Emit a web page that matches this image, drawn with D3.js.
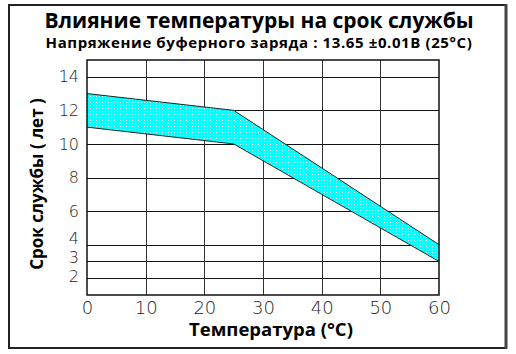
<!DOCTYPE html>
<html>
<head>
<meta charset="utf-8">
<script src="https://cdn.jsdelivr.net/npm/d3@7"></script>
<style>
  body { margin: 0; background: #fff; }
  svg text { font-family: "Open Sans", "Noto Sans", sans-serif; }
  .tick text { font-family: "DejaVu Sans", sans-serif; font-weight: 200; font-stretch: condensed; }
</style>
</head>
<body>
<div id="chart"></div>
<script>
// band edges (temperature °C -> service life, years)
var temps = [0, 25, 60];
var upperLife = [13, 12, 4];
var lowerLife = [11, 10, 3];
var xTicks = [0, 10, 20, 30, 40, 50, 60];
var yTicks = [2, 3, 4, 6, 8, 10, 12, 14];

var width = 516, height = 354;
var svg = d3.select("#chart").append("svg")
  .attr("width", width).attr("height", height);

var defs = svg.append("defs");
var pat = defs.append("pattern").attr("id", "dots")
  .attr("patternUnits", "userSpaceOnUse").attr("width", 3).attr("height", 3);
pat.append("rect").attr("width", 3).attr("height", 3).attr("fill", "#00ffff");
pat.append("rect").attr("x", 0).attr("y", 0).attr("width", 1).attr("height", 1).attr("fill", "#fff");

// outer frame
svg.append("rect").attr("x", 9).attr("y", 5).attr("width", 497).attr("height", 343)
  .attr("fill", "none").attr("stroke", "#222").attr("stroke-width", 2);
svg.append("line").attr("x1", 506).attr("x2", 506).attr("y1", 4).attr("y2", 349)
  .attr("stroke", "#444").attr("stroke-width", 3);

var x = d3.scaleLinear().domain([0, 60]).range([87, 439]);
var y = d3.scaleLinear().domain([1, 15]).range([295, 60]);

// grid
svg.append("g").selectAll("line").data(yTicks).join("line")
  .attr("x1", x(0)).attr("x2", x(60))
  .attr("y1", d => Math.round(y(d)) + 0.5).attr("y2", d => Math.round(y(d)) + 0.5)
  .attr("stroke", "#111").attr("stroke-width", 1);
svg.append("g").selectAll("line").data(xTicks.slice(1, -1)).join("line")
  .attr("y1", y(15)).attr("y2", y(1))
  .attr("x1", d => Math.round(x(d)) + 0.5).attr("x2", d => Math.round(x(d)) + 0.5)
  .attr("stroke", "#333").attr("stroke-width", 1);

// band
var band = temps.map((t, i) => ({ t: t, hi: upperLife[i], lo: lowerLife[i] }));
svg.append("path").datum(band)
  .attr("d", d3.area().x(d => x(d.t)).y0(d => y(d.lo)).y1(d => y(d.hi)))
  .attr("fill", "url(#dots)").attr("stroke", "none");
svg.append("path").datum(band)
  .attr("d", d3.line().x(d => x(d.t)).y(d => y(d.hi)))
  .attr("fill", "none").attr("stroke", "#222").attr("stroke-width", 1);
svg.append("path").datum(band)
  .attr("d", d3.line().x(d => x(d.t)).y(d => y(d.lo)))
  .attr("fill", "none").attr("stroke", "#222").attr("stroke-width", 1);

// plot frame
svg.append("rect").attr("x", x(0)).attr("y", y(15))
  .attr("width", x(60) - x(0)).attr("height", y(1) - y(15))
  .attr("fill", "none").attr("stroke", "#111").attr("stroke-width", 1.5);

// axes (labels only)
var xAxis = svg.append("g").attr("transform", "translate(0," + y(1) + ")")
  .call(d3.axisBottom(x).tickValues(xTicks).tickSize(0).tickPadding(6));
xAxis.select(".domain").remove();
xAxis.selectAll("text").attr("font-size", 18).attr("fill", "#222");

// the crowded labels near the bottom are nudged up, as in the original
var labelShift = { 4: -6.5, 3: -4, 2: -1.5 };
var yAxis = svg.append("g").attr("transform", "translate(" + x(0) + ",0)")
  .call(d3.axisLeft(y).tickValues(yTicks).tickSize(0).tickPadding(8));
yAxis.select(".domain").remove();
yAxis.selectAll("text").attr("font-size", 16).attr("fill", "#222")
  .attr("y", d => labelShift[d] || 0);

// titles
svg.append("text").attr("x", 259).attr("y", 28).attr("text-anchor", "middle")
  .attr("font-size", 21).attr("font-weight", "bold")
  .text("Влияние температуры на срок службы");
svg.append("text").attr("x", 259).attr("y", 48).attr("text-anchor", "middle")
  .attr("font-size", 15).attr("font-weight", "bold").attr("letter-spacing", 0.6)
  .text("Напряжение буферного заряда : 13.65 ±0.01В (25°C)");
svg.append("text").attr("x", 271).attr("y", 336).attr("text-anchor", "middle")
  .attr("font-size", 18.5).attr("font-weight", "bold")
  .text("Температура (°C)");
svg.append("text").attr("transform", "translate(43,184) rotate(-90)")
  .attr("text-anchor", "middle")
  .attr("font-size", 17).attr("font-weight", "bold")
  .text("Срок службы ( лет )");
</script>
</body>
</html>
